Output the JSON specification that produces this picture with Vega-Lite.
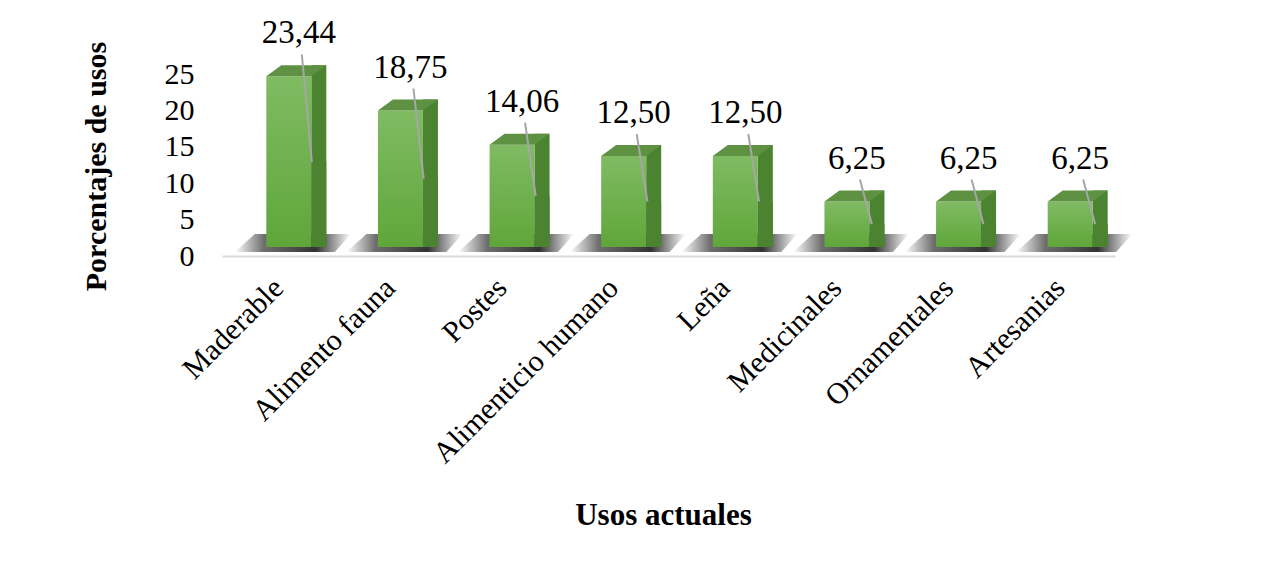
{
  "$schema": "https://vega.github.io/schema/vega-lite/v6.json",
  "width": 893,
  "height": 182,
  "autosize": "none",
  "padding": {"left": 222, "top": 74, "right": 150, "bottom": 310},
  "background": "#ffffff",
  "config": {
    "view": {"stroke": null},
    "locale": {"number": {"decimal": ",", "thousands": ".", "grouping": [3], "currency": ["", ""]}},
    "font": "Liberation Serif"
  },
  "data": {
    "values": [
      {"uso": "Maderable", "pct": 23.44},
      {"uso": "Alimento fauna", "pct": 18.75},
      {"uso": "Postes", "pct": 14.06},
      {"uso": "Alimenticio humano", "pct": 12.5},
      {"uso": "Leña", "pct": 12.5},
      {"uso": "Medicinales", "pct": 6.25},
      {"uso": "Ornamentales", "pct": 6.25},
      {"uso": "Artesanias", "pct": 6.25}
    ]
  },
  "encoding": {
    "x": {
      "field": "uso",
      "type": "nominal",
      "sort": null,
      "scale": {"paddingInner": 0, "paddingOuter": 0},
      "axis": {
        "title": "Usos actuales",
        "labelAngle": -45,
        "labelAlign": "right",
        "labelBaseline": "middle",
        "labelFont": "Liberation Serif",
        "labelFontSize": 30,
        "labelColor": "#000000",
        "labelPadding": 27,
        "labelOffset": 1,
        "labelLimit": 0,
        "ticks": false,
        "domainColor": "#d9d9d9",
        "domainWidth": 2,
        "titleFont": "Liberation Serif",
        "titleFontSize": 31,
        "titleFontWeight": "bold",
        "titleColor": "#000000",
        "titleX": 441,
        "titleY": 259,
        "titleBaseline": "middle"
      }
    }
  },
  "layer": [
    {
      "mark": {
        "type": "point",
        "shape": "M-0.86,-0.08L-0.46,-0.44L1.46,-0.44L1.14,-0.08Z",
        "size": 10000,
        "filled": true,
        "opacity": 1,
        "strokeWidth": 0,
        "fill": {"gradient": "linear", "x1": 0, "y1": 0, "x2": 1, "y2": 0,
          "stops": [
            {"offset": 0, "color": "#ffffff"},
            {"offset": 0.25, "color": "#6e6e6e"},
            {"offset": 0.7, "color": "#333333"},
            {"offset": 1, "color": "#ffffff"}
          ]}
      },
      "encoding": {
        "y": {"datum": 0, "type": "quantitative", "scale": {"domain": [0, 25], "nice": false}, "axis": null}
      }
    },
    {
      "mark": {"type": "bar", "width": 15, "xOffset": 41, "yOffset": -20, "y2Offset": -9, "color": "#4b8331"},
      "encoding": {
        "y": {"field": "pct", "type": "quantitative", "scale": {"domain": [0, 25], "nice": false}, "axis": null},
        "y2": {"datum": 0}
      }
    },
    {
      "mark": {
        "type": "bar", "width": 45, "xOffset": 11, "yOffset": -9, "y2Offset": -9,
        "fill": {"gradient": "linear", "x1": 0, "y1": 0, "x2": 0, "y2": 1,
          "stops": [{"offset": 0, "color": "#80bb63"}, {"offset": 1, "color": "#5fa63a"}]}
      },
      "encoding": {
        "y": {
          "field": "pct", "type": "quantitative",
          "scale": {"domain": [0, 25], "nice": false},
          "axis": {
            "title": "Porcentajes de usos",
            "values": [0, 5, 10, 15, 20, 25],
            "domain": false,
            "ticks": false,
            "grid": false,
            "labelFont": "Liberation Serif",
            "labelFontSize": 30,
            "labelColor": "#000000",
            "labelPadding": 28,
            "titleFont": "Liberation Serif",
            "titleFontSize": 30,
            "titleFontWeight": "bold",
            "titleColor": "#000000",
            "titleX": -126,
            "titleY": 92,
            "titleAngle": -90,
            "titleBaseline": "middle"
          }
        },
        "y2": {"datum": 0}
      }
    },
    {
      "mark": {
        "type": "point",
        "shape": "M-0.45,0L0.45,0L0.75,-0.22L-0.15,-0.22Z",
        "size": 10000,
        "filled": true,
        "opacity": 1,
        "strokeWidth": 0,
        "fill": "#5e9142",
        "xOffset": 11,
        "yOffset": -9
      },
      "encoding": {
        "y": {"field": "pct", "type": "quantitative", "scale": {"domain": [0, 25], "nice": false}, "axis": null}
      }
    },
    {
      "mark": {"type": "rule", "color": "#a6a6a6", "strokeWidth": 2, "xOffset": 24, "x2Offset": 42, "yOffset": -31, "y2Offset": -9},
      "encoding": {
        "x2": {"field": "uso"},
        "y": {"field": "pct", "type": "quantitative", "scale": {"domain": [0, 25], "nice": false}, "axis": null},
        "y2": {"datum": 0}
      }
    },
    {
      "mark": {"type": "bar", "width": 15, "xOffset": 41, "yOffset": -9, "y2Offset": -9, "color": "#4b8331"},
      "encoding": {
        "y": {"field": "pct", "type": "quantitative", "scale": {"domain": [0, 50], "nice": false}, "axis": null},
        "y2": {"datum": 0}
      }
    },
    {
      "mark": {"type": "text", "font": "Liberation Serif", "fontSize": 33, "color": "#000000", "baseline": "middle", "align": "center", "xOffset": 21, "yOffset": -52},
      "encoding": {
        "y": {"field": "pct", "type": "quantitative", "scale": {"domain": [0, 25], "nice": false}, "axis": null},
        "text": {"field": "pct", "type": "quantitative", "format": ".2f"}
      }
    }
  ],
  "resolve": {"scale": {"y": "independent"}}
}
